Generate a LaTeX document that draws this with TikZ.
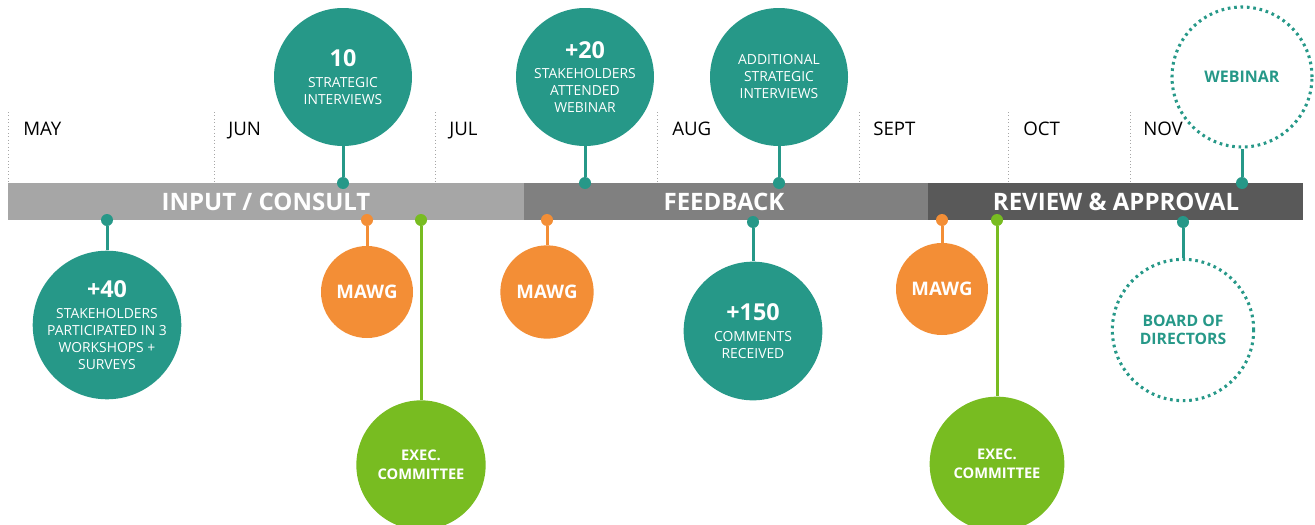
\documentclass[tikz,border=0pt]{standalone}
\usepackage{fontspec}
\setmainfont{Open Sans}
\definecolor{tealc}{RGB}{38,152,136}
\definecolor{orangec}{RGB}{243,142,54}
\definecolor{greenc}{RGB}{120,188,33}
\definecolor{barA}{RGB}{166,166,166}
\definecolor{barB}{RGB}{128,128,128}
\definecolor{barC}{RGB}{89,89,89}
\newcommand{\bignum}[1]{{\fontsize{17.5}{19}\selectfont\bfseries #1}}
\begin{document}
\begin{tikzpicture}[x=0.75pt,y=0.75pt,yscale=-1,xscale=1,
  month/.style={anchor=base west, inner sep=0pt, font=\fontsize{14}{16}\selectfont},
  phase/.style={inner sep=0pt, text=white, font=\fontsize{18}{20}\selectfont\bfseries},
  bubble/.style={circle, inner sep=0pt, align=center, text=white, fill=#1,
    font=\fontsize{10.4}{12.75}\selectfont},
  ring/.style={circle, inner sep=0pt, align=center, draw=tealc, text=tealc,
    line width=2.3pt, dash pattern=on 2pt off 2.8pt,
    font=\fontsize{12}{14}\selectfont\bfseries},
  pin/.style={circle, fill=#1, inner sep=0pt, minimum size=9pt},
  stem/.style={draw=#1, line width=2.25pt}]
\useasboundingbox (0,0) rectangle (1315,525);
%Month dividers
\foreach \x in {8,214,435,657,859,1008,1130}
  \draw [gray!70, dotted, line width=0.6pt] (\x,112) -- (\x,183) ;
% Text Node
\foreach \x/\m in {23/MAY,228/JUN,449/JUL,672/AUG,873/SEPT,1023/OCT,1143/NOV}
  \node [month] (m\m) at (\x,135) {\m};
%Shape: Rectangle (bar)
\fill [barA] (8,183) rectangle (524,220) ;
\fill [barB] (524,183) rectangle (928,220) ;
\fill [barC] (928,183) rectangle (1303,220) ;
% Text Node
\node [phase] (input) at (266,202) {INPUT / CONSULT};
\node [phase] (feedback) at (724,202) {FEEDBACK};
\node [phase] (review) at (1116,202) {REVIEW \& APPROVAL};
%Shape: Circle (above the bar)
\node [bubble=tealc, minimum size=103.5pt] (interviews) at (343,77)
  {\bignum{10}\\[3pt] STRATEGIC\\ INTERVIEWS};
\node [bubble=tealc, minimum size=103.5pt] (webinarplus) at (585,77)
  {\bignum{+20}\\[2pt] STAKEHOLDERS\\ ATTENDED\\ WEBINAR};
\node [bubble=tealc, minimum size=103.5pt] (additional) at (779,77)
  {ADDITIONAL\\ STRATEGIC\\ INTERVIEWS};
\node [ring, minimum size=105pt] (webinar) at (1242,77) {WEBINAR};
%Shape: Circle (below the bar)
\node [bubble=tealc, minimum size=104pt] (workshops) at (107,325)
  {\bignum{+40}\\[3pt] STAKEHOLDERS\\ PARTICIPATED IN 3\\ WORKSHOPS +\\ SURVEYS};
\node [bubble=orangec, minimum size=69pt, font=\fontsize{14}{16}\selectfont\bfseries] (mawgA) at (367,292) {MAWG};
\node [bubble=greenc, minimum size=97pt, font=\fontsize{11}{14}\selectfont\bfseries] (execA) at (421,465) {EXEC.\\ COMMITTEE};
\node [bubble=orangec, minimum size=70pt, font=\fontsize{14}{16}\selectfont\bfseries] (mawgB) at (547,292) {MAWG};
\node [bubble=tealc, minimum size=104pt] (comments) at (753,331)
  {\bignum{+150}\\[3pt] COMMENTS\\ RECEIVED};
\node [bubble=orangec, minimum size=69pt, font=\fontsize{14}{16}\selectfont\bfseries] (mawgC) at (942,289) {MAWG};
\node [bubble=greenc, minimum size=101pt, font=\fontsize{11}{14}\selectfont\bfseries] (execB) at (997,464) {EXEC.\\ COMMITTEE};
\node [ring, minimum size=106pt, font=\fontsize{11.8}{14}\selectfont\bfseries] (board) at (1183,330) {BOARD OF\\ DIRECTORS};
%Pins on the bar
\node [pin=tealc] (pInterviews) at (343,183) {};
\node [pin=tealc] (pWebinarplus) at (585,183) {};
\node [pin=tealc] (pAdditional) at (779,183) {};
\node [pin=tealc] (pWebinar) at (1242,183) {};
\node [pin=tealc] (pWorkshops) at (107,220) {};
\node [pin=orangec] (pMawgA) at (367,220) {};
\node [pin=greenc] (pExecA) at (421,220) {};
\node [pin=orangec] (pMawgB) at (547,220) {};
\node [pin=tealc] (pComments) at (753,222) {};
\node [pin=orangec] (pMawgC) at (942,220) {};
\node [pin=greenc] (pExecB) at (997,220) {};
\node [pin=tealc] (pBoard) at (1183,222) {};
%Straight Lines (stems)
\draw [stem=tealc] (pInterviews) -- (interviews) ;
\draw [stem=tealc] (pWebinarplus) -- (webinarplus) ;
\draw [stem=tealc] (pAdditional) -- (additional) ;
\draw [stem=tealc] (pWebinar) -- (webinar) ;
\draw [stem=tealc] (pWorkshops) -- (workshops) ;
\draw [stem=orangec] (pMawgA) -- (mawgA) ;
\draw [stem=greenc] (pExecA) -- (execA) ;
\draw [stem=orangec] (pMawgB) -- (mawgB) ;
\draw [stem=tealc] (pComments) -- (comments) ;
\draw [stem=orangec] (pMawgC) -- (mawgC) ;
\draw [stem=greenc] (pExecB) -- (execB) ;
\draw [stem=tealc] (pBoard) -- (board) ;
\end{tikzpicture}
\end{document}
